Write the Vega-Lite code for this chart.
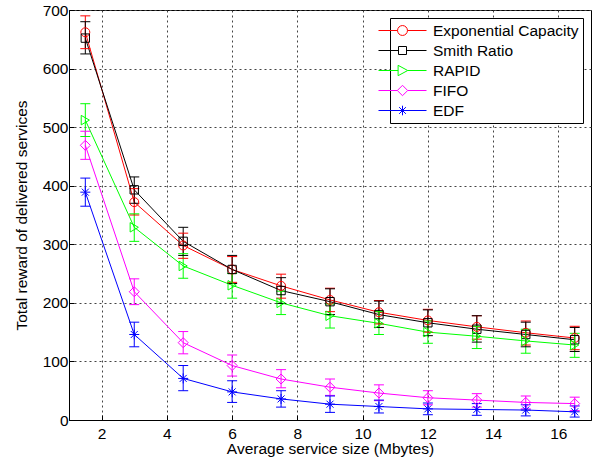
{
  "$schema": "https://vega.github.io/schema/vega-lite/v6.json",
  "width": 522,
  "height": 410,
  "autosize": {"type": "none"},
  "padding": {"left": 69, "top": 10, "right": 10, "bottom": 48},
  "background": "white",
  "config": {
    "font": "Liberation Sans",
    "view": {"stroke": "black", "strokeWidth": 1},
    "axis": {
      "labelFont": "Liberation Sans",
      "titleFont": "Liberation Sans",
      "labelFontSize": 15.5,
      "titleFontSize": 15.5,
      "titleFontWeight": "normal",
      "labelColor": "black",
      "titleColor": "black",
      "domainColor": "black",
      "tickColor": "black"
    }
  },
  "data": {
    "values": [
      {"s": "Exponential Capacity", "x": 1.5, "y": 662, "lo": 634, "hi": 690},
      {"s": "Exponential Capacity", "x": 3, "y": 372, "lo": 350, "hi": 395},
      {"s": "Exponential Capacity", "x": 4.5, "y": 298, "lo": 276, "hi": 319},
      {"s": "Exponential Capacity", "x": 6, "y": 257, "lo": 235, "hi": 279},
      {"s": "Exponential Capacity", "x": 7.5, "y": 229, "lo": 208, "hi": 249},
      {"s": "Exponential Capacity", "x": 9, "y": 205, "lo": 185, "hi": 225},
      {"s": "Exponential Capacity", "x": 10.5, "y": 184, "lo": 164, "hi": 204},
      {"s": "Exponential Capacity", "x": 12, "y": 170, "lo": 150, "hi": 189},
      {"s": "Exponential Capacity", "x": 13.5, "y": 159, "lo": 138, "hi": 178},
      {"s": "Exponential Capacity", "x": 15, "y": 149, "lo": 128, "hi": 169},
      {"s": "Exponential Capacity", "x": 16.5, "y": 140, "lo": 120, "hi": 160},
      {"s": "Smith Ratio", "x": 1.5, "y": 652, "lo": 625, "hi": 680},
      {"s": "Smith Ratio", "x": 3, "y": 393, "lo": 370, "hi": 415},
      {"s": "Smith Ratio", "x": 4.5, "y": 305, "lo": 281, "hi": 329},
      {"s": "Smith Ratio", "x": 6, "y": 257, "lo": 233, "hi": 281},
      {"s": "Smith Ratio", "x": 7.5, "y": 221, "lo": 199, "hi": 243},
      {"s": "Smith Ratio", "x": 9, "y": 202, "lo": 180, "hi": 224},
      {"s": "Smith Ratio", "x": 10.5, "y": 180, "lo": 158, "hi": 203},
      {"s": "Smith Ratio", "x": 12, "y": 166, "lo": 144, "hi": 188},
      {"s": "Smith Ratio", "x": 13.5, "y": 155, "lo": 133, "hi": 178},
      {"s": "Smith Ratio", "x": 15, "y": 146, "lo": 125, "hi": 167},
      {"s": "Smith Ratio", "x": 16.5, "y": 137, "lo": 117, "hi": 158},
      {"s": "RAPID", "x": 1.5, "y": 512, "lo": 484, "hi": 540},
      {"s": "RAPID", "x": 3, "y": 329, "lo": 305, "hi": 352},
      {"s": "RAPID", "x": 4.5, "y": 263, "lo": 242, "hi": 284},
      {"s": "RAPID", "x": 6, "y": 230, "lo": 208, "hi": 250},
      {"s": "RAPID", "x": 7.5, "y": 200, "lo": 180, "hi": 220},
      {"s": "RAPID", "x": 9, "y": 178, "lo": 157, "hi": 198},
      {"s": "RAPID", "x": 10.5, "y": 165, "lo": 146, "hi": 185},
      {"s": "RAPID", "x": 12, "y": 150, "lo": 131, "hi": 169},
      {"s": "RAPID", "x": 13.5, "y": 143, "lo": 122, "hi": 160},
      {"s": "RAPID", "x": 15, "y": 135, "lo": 114, "hi": 155},
      {"s": "RAPID", "x": 16.5, "y": 128, "lo": 107, "hi": 148},
      {"s": "FIFO", "x": 1.5, "y": 469, "lo": 445, "hi": 493},
      {"s": "FIFO", "x": 3, "y": 219, "lo": 197, "hi": 241},
      {"s": "FIFO", "x": 4.5, "y": 132, "lo": 113, "hi": 151},
      {"s": "FIFO", "x": 6, "y": 93, "lo": 75, "hi": 111},
      {"s": "FIFO", "x": 7.5, "y": 70, "lo": 55, "hi": 86},
      {"s": "FIFO", "x": 9, "y": 56, "lo": 42, "hi": 70},
      {"s": "FIFO", "x": 10.5, "y": 46, "lo": 33, "hi": 60},
      {"s": "FIFO", "x": 12, "y": 38, "lo": 26, "hi": 50},
      {"s": "FIFO", "x": 13.5, "y": 34, "lo": 22, "hi": 45},
      {"s": "FIFO", "x": 15, "y": 30, "lo": 19, "hi": 41},
      {"s": "FIFO", "x": 16.5, "y": 28, "lo": 16, "hi": 39},
      {"s": "EDF", "x": 1.5, "y": 389, "lo": 365, "hi": 413},
      {"s": "EDF", "x": 3, "y": 146, "lo": 125, "hi": 167},
      {"s": "EDF", "x": 4.5, "y": 71, "lo": 50, "hi": 93},
      {"s": "EDF", "x": 6, "y": 48, "lo": 30, "hi": 67},
      {"s": "EDF", "x": 7.5, "y": 36, "lo": 22, "hi": 50},
      {"s": "EDF", "x": 9, "y": 27, "lo": 13, "hi": 41},
      {"s": "EDF", "x": 10.5, "y": 23, "lo": 12, "hi": 34},
      {"s": "EDF", "x": 12, "y": 19, "lo": 9, "hi": 29},
      {"s": "EDF", "x": 13.5, "y": 18, "lo": 8, "hi": 28},
      {"s": "EDF", "x": 15, "y": 17, "lo": 7, "hi": 26},
      {"s": "EDF", "x": 16.5, "y": 14, "lo": 5, "hi": 24}
    ]
  },
  "encoding": {
    "x": {
      "field": "x", "type": "quantitative",
      "scale": {"domain": [1, 17], "nice": false, "zero": false},
      "axis": {
        "title": "Average service size (Mbytes)",
        "values": [2, 4, 6, 8, 10, 12, 14, 16],
        "grid": true, "gridColor": "#444444", "gridDash": [2, 3], "gridOpacity": 1,
        "tickSize": -5, "labelPadding": 11, "titlePadding": 0
      }
    },
    "color": {
      "field": "s", "type": "nominal",
      "scale": {
        "domain": ["Exponential Capacity", "Smith Ratio", "RAPID", "FIFO", "EDF"],
        "range": ["#ff0000", "#000000", "#00ff00", "#ff00ff", "#0000ff"]
      },
      "legend": {
        "title": null,
        "orient": "top-right",
        "offset": 8,
        "padding": 4,
        "strokeColor": "black",
        "fillColor": "white",
        "labelFont": "Liberation Sans",
        "labelFontSize": 15.5,
        "labelColor": "black",
        "labelOffset": 22,
        "rowPadding": 3,
        "symbolSize": 256,
        "symbolStrokeWidth": 1,
        "symbolOpacity": 1,
        "symbolFillColor": "transparent"
      }
    }
  },
  "layer": [
    {
      "transform": [{"filter": "datum.x > 100"}],
      "mark": {"type": "point", "filled": false, "strokeWidth": 1, "opacity": 1},
      "encoding": {
        "y": {"field": "y", "type": "quantitative"},
        "shape": {
          "field": "s", "type": "nominal",
          "scale": {
            "domain": ["Exponential Capacity", "Smith Ratio", "RAPID", "FIFO", "EDF"],
            "range": [
              "M-3,0L-0.62,0M0.62,0L3,0M0.62,0A0.62,0.62 0 1,1 -0.62,0A0.62,0.62 0 1,1 0.62,0",
              "M-3,0L-0.5,0M0.5,0L3,0M-0.5,-0.5L0.5,-0.5L0.5,0.5L-0.5,0.5Z",
              "M-3,0L-0.55,0M0.65,0L3,0M-0.55,-0.65L0.65,0L-0.55,0.65Z",
              "M-3,0L-0.65,0M0.65,0L3,0M0,-0.65L0.65,0L0,0.65L-0.65,0Z",
              "M-3,0L3,0M0,-0.6L0,0.6M-0.42,-0.42L0.42,0.42M-0.42,0.42L0.42,-0.42"
            ]
          },
          "legend": {
            "title": null,
            "orient": "top-right",
            "offset": 8,
            "padding": 4,
            "strokeColor": "black",
            "fillColor": "white",
            "labelFont": "Liberation Sans",
            "labelFontSize": 15.5,
            "labelColor": "black",
            "labelOffset": 22,
            "rowPadding": 3,
            "symbolSize": 256,
            "symbolStrokeWidth": 1,
            "symbolOpacity": 1,
            "symbolFillColor": "transparent"
          }
        }
      }
    },
    {
      "mark": {"type": "line", "strokeWidth": 1},
      "encoding": {
        "y": {
          "field": "y", "type": "quantitative",
          "scale": {"domain": [0, 700], "nice": false},
          "axis": {
            "title": "Total reward of delivered services",
            "values": [0, 100, 200, 300, 400, 500, 600, 700],
            "grid": true, "gridColor": "#444444", "gridDash": [2, 3], "gridOpacity": 1,
            "tickSize": -5, "labelPadding": 6, "titlePadding": 13
          }
        }
      }
    },
    {
      "mark": {"type": "rule", "strokeWidth": 1},
      "encoding": {
        "y": {"field": "lo", "type": "quantitative"},
        "y2": {"field": "hi"}
      }
    },
    {
      "mark": {"type": "point", "shape": "M-1,0L1,0", "filled": false, "size": 100, "strokeWidth": 1, "opacity": 1},
      "encoding": {"y": {"field": "lo", "type": "quantitative"}}
    },
    {
      "mark": {"type": "point", "shape": "M-1,0L1,0", "filled": false, "size": 100, "strokeWidth": 1, "opacity": 1},
      "encoding": {"y": {"field": "hi", "type": "quantitative"}}
    },
    {
      "transform": [{"filter": "datum.s === 'Exponential Capacity'"}],
      "mark": {"type": "point", "shape": "circle", "filled": false, "size": 80, "strokeWidth": 1, "opacity": 1},
      "encoding": {"y": {"field": "y", "type": "quantitative"}}
    },
    {
      "transform": [{"filter": "datum.s === 'Smith Ratio'"}],
      "mark": {"type": "point", "shape": "square", "filled": false, "size": 70, "strokeWidth": 1, "opacity": 1},
      "encoding": {"y": {"field": "y", "type": "quantitative"}}
    },
    {
      "transform": [{"filter": "datum.s === 'RAPID'"}],
      "mark": {"type": "point", "shape": "triangle-right", "filled": false, "size": 90, "strokeWidth": 1, "opacity": 1},
      "encoding": {"y": {"field": "y", "type": "quantitative"}}
    },
    {
      "transform": [{"filter": "datum.s === 'FIFO'"}],
      "mark": {"type": "point", "shape": "diamond", "filled": false, "size": 100, "strokeWidth": 1, "opacity": 1},
      "encoding": {"y": {"field": "y", "type": "quantitative"}}
    },
    {
      "transform": [{"filter": "datum.s === 'EDF'"}],
      "mark": {"type": "point", "shape": "M-1,0L1,0M0,-1L0,1M-0.7,-0.7L0.7,0.7M-0.7,0.7L0.7,-0.7", "filled": false, "size": 100, "strokeWidth": 1, "opacity": 1},
      "encoding": {"y": {"field": "y", "type": "quantitative"}}
    }
  ]
}
